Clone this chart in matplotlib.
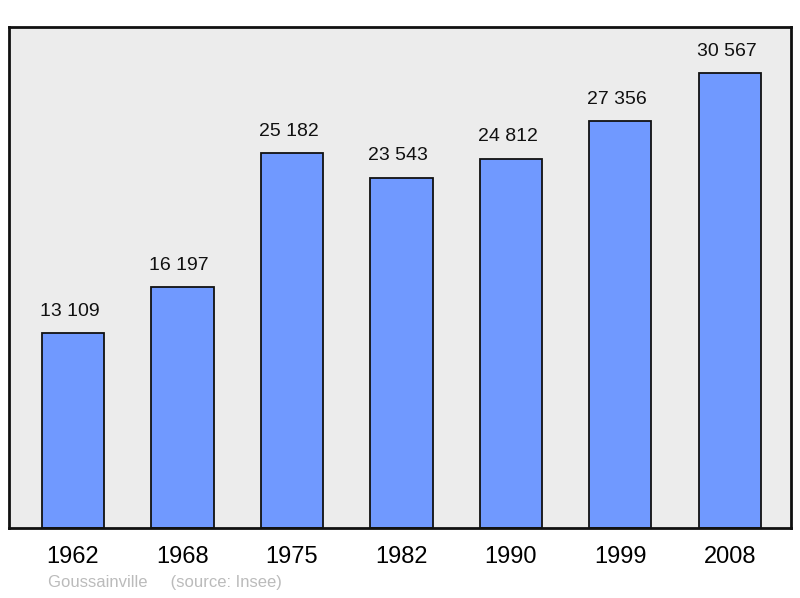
import matplotlib.pyplot as plt

plt.rcParams['font.family'] = ['Liberation Sans', 'DejaVu Sans']

years = ["1962", "1968", "1975", "1982", "1990", "1999", "2008"]
population = [13109, 16197, 25182, 23543, 24812, 27356, 30567]
labels = ["13 109", "16 197", "25 182", "23 543", "24 812", "27 356", "30 567"]

fig = plt.figure(figsize=(8, 5.98), dpi=100)
ax = fig.add_axes([9 / 800, 70 / 598, 782 / 800, 501 / 598])
ax.set_facecolor("#ececec")

x = range(len(years))
ax.bar(x, population, width=0.57, color="#7099ff", edgecolor="#111111",
       linewidth=1.3, zorder=2)

for xi, v, lab in zip(x, population, labels):
    ax.text(xi - 0.03, v + 900, lab, ha="center", va="bottom", fontsize=14,
            color="#111111")

ax.set_xlim(-0.585, 6.56)
ax.set_ylim(0, 33670)
ax.set_xticks(list(x))
ax.set_xticklabels(years, fontsize=17)
ax.tick_params(axis="x", length=0, pad=13)
ax.set_yticks([])
for s in ax.spines.values():
    s.set_linewidth(2)
    s.set_color("#111111")

fig.text(48 / 800, 1 - 583 / 598, "Goussainville     (source: Insee)",
         fontsize=12, color="#bbbbbb", va="center", ha="left")

fig.savefig("out.png", dpi=100)
